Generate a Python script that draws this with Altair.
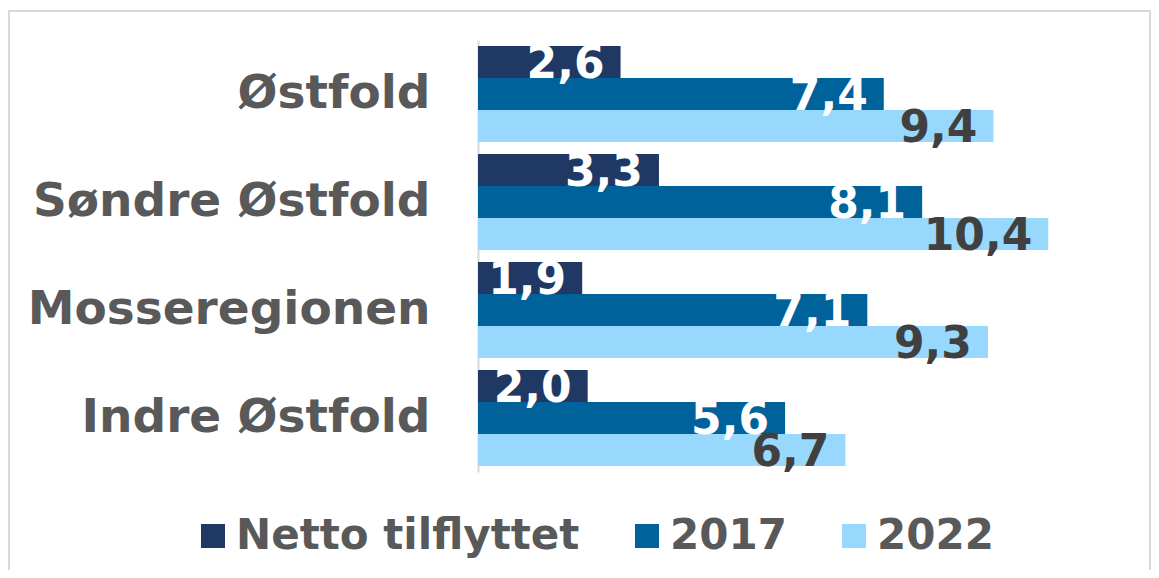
import altair as alt
import pandas as pd

regions = ["Østfold", "Søndre Østfold", "Mosseregionen", "Indre Østfold"]
series = ["Netto tilflyttet", "2017", "2022"]
netto = [2.6, 3.3, 1.9, 2.0]
v2017 = [7.4, 8.1, 7.1, 5.6]
v2022 = [9.4, 10.4, 9.3, 6.7]
colors = ["#1F3864", "#00629B", "#99D8FD"]

rows = []
for i, r in enumerate(regions):
    for s, vals in zip(series, [netto, v2017, v2022]):
        v = vals[i]
        rows.append({"region": r, "series": s, "value": v,
                     "label": f"{v:.1f}".replace(".", ",")})
df = pd.DataFrame(rows)

FONT = "DejaVu Sans"

y = alt.Y("region:N", sort=regions,
          scale=alt.Scale(paddingInner=0.111, paddingOuter=0.0556),
          axis=alt.Axis(title=None, ticks=False, labelFontSize=47, labelFont=FONT,
                        labelFontWeight="bold", labelColor="#595959", labelPadding=48,
                        domainColor="#D9D9D9", domainWidth=2, labelLimit=0))
yoff = alt.YOffset("series:N", sort=series,
                   scale=alt.Scale(paddingInner=0, paddingOuter=0))
x = alt.X("value:Q", scale=alt.Scale(domain=[0, 12], nice=False), axis=None)

frame = alt.Chart(alt.Data(values=[{"a": 1}])).mark_rect(
    fill=None, stroke="#D9D9D9", strokeWidth=2
).encode(x=alt.value(-469), x2=alt.value(672), y=alt.value(-29), y2=alt.value(620))

bars = alt.Chart(df).mark_bar().encode(
    y=y, yOffset=yoff, x=x,
    color=alt.Color("series:N", sort=series,
                    scale=alt.Scale(domain=series, range=colors),
                    legend=alt.Legend(title=None, orient="none", legendX=-286, legendY=475,
                                      direction="horizontal", symbolType="square",
                                      symbolSize=576, symbolStrokeWidth=0,
                                      labelFont=FONT, labelFontWeight="bold",
                                      labelFontSize=42, labelColor="#595959",
                                      labelOffset=2, columnPadding=46, labelLimit=0))
)

labels = alt.Chart(df).mark_text(
    align="right", baseline="middle", dx=-16, dy=3,
    font=FONT, fontWeight="bold", fontSize=44
).encode(
    y=y, yOffset=yoff, x=x, text="label:N",
    color=alt.condition(alt.datum.series == "2022", alt.value("#404040"), alt.value("white"))
)

chart = alt.layer(frame, bars, labels).properties(
    width=658, height=432,
    padding={"left": 470, "top": 32, "right": 15, "bottom": 98},
    autosize=alt.AutoSizeParams(type="none"),
).configure_view(stroke=None)

chart.save("out.html", embed_options={"renderer": "svg", "actions": False})
